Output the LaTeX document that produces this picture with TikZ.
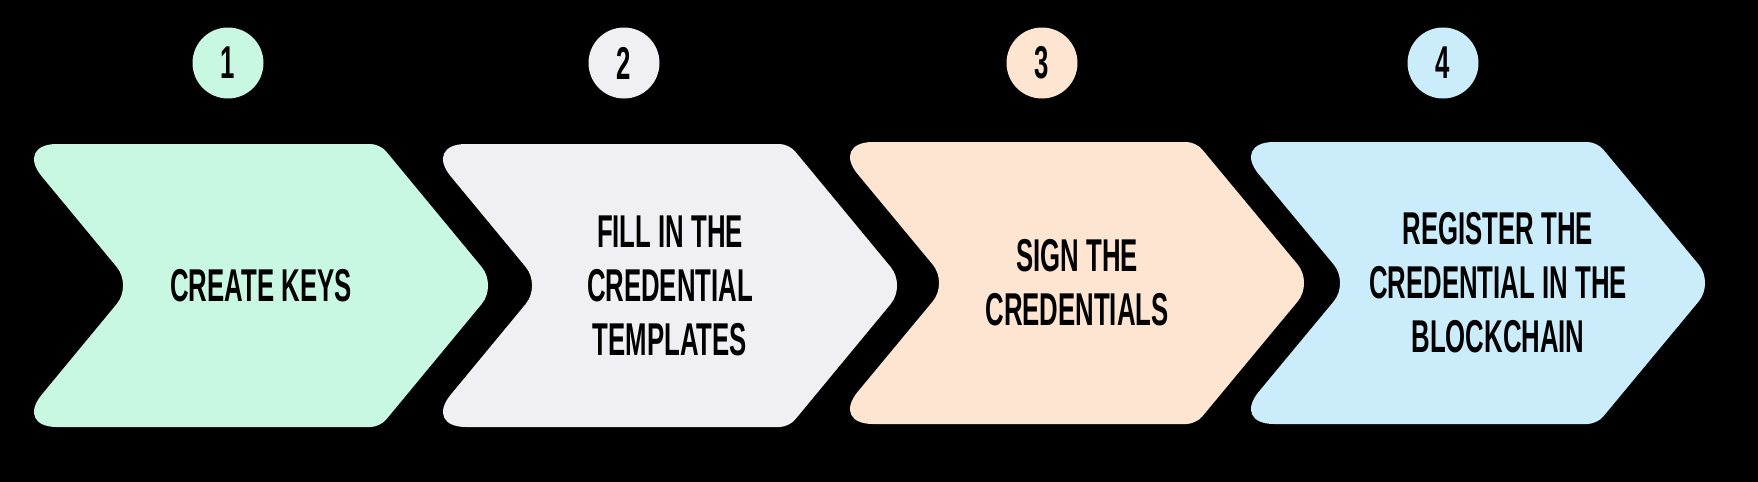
\documentclass[tikz,border=0pt]{standalone}
\usepackage{fontspec}
\setmainfont{Liberation Sans}[FakeStretch=0.56]
\definecolor{mintfill}{RGB}{200,247,226}
\definecolor{greyfill}{RGB}{239,239,244}
\definecolor{peachfill}{RGB}{253,229,210}
\definecolor{bluefill}{RGB}{203,236,250}

\begin{document}
\begin{tikzpicture}[x=0.5pt,y=-0.5pt,
	steptext/.style={align=center,text=black,font=\fontsize{23}{27}\selectfont\bfseries},
	stepnum/.style={circle,minimum size=35.5pt,inner sep=0pt,text=black,font=\fontsize{23}{27}\selectfont\bfseries}]
	\fill [black] (0,0) rectangle (1758,482);

	% arrows
	\fill [mintfill] (200,144) [rounded corners=4.75pt] -- (380,144) [rounded corners=12pt] -- (497,285.5) [rounded corners=4.75pt] -- (380,427) [rounded corners=21pt] -- (15,427) [rounded corners=12pt] -- (132,285.5) [rounded corners=21pt] -- (15,144) -- cycle;
	\fill [greyfill] (609,144) [rounded corners=4.75pt] -- (789,144) [rounded corners=12pt] -- (906,285.5) [rounded corners=4.75pt] -- (789,427) [rounded corners=21pt] -- (424,427) [rounded corners=12pt] -- (541,285.5) [rounded corners=21pt] -- (424,144) -- cycle;
	\fill [peachfill] (1016,142) [rounded corners=4.75pt] -- (1196,142) [rounded corners=12pt] -- (1313,283) [rounded corners=4.75pt] -- (1196,424) [rounded corners=21pt] -- (831,424) [rounded corners=12pt] -- (948,283) [rounded corners=21pt] -- (831,142) -- cycle;
	\fill [bluefill] (1417,142) [rounded corners=4.75pt] -- (1597,142) [rounded corners=12pt] -- (1714,283) [rounded corners=4.75pt] -- (1597,424) [rounded corners=21pt] -- (1232,424) [rounded corners=12pt] -- (1349,283) [rounded corners=21pt] -- (1232,142) -- cycle;

	\node [steptext] (create) at (261,285.5) {CREATE KEYS};
	\node [steptext] (fill) at (670,285.5) {FILL IN THE\\CREDENTIAL\\TEMPLATES};
	\node [steptext] (sign) at (1077,283) {SIGN THE\\CREDENTIALS};
	\node [steptext] (register) at (1498,283) {REGISTER THE\\CREDENTIAL IN THE\\BLOCKCHAIN};

	% numbers
	\node [stepnum,fill=mintfill] (one) at (228,63) {1};
	\node [stepnum,fill=greyfill] (two) at (624,63) {2};
	\node [stepnum,fill=peachfill] (three) at (1042,63) {3};
	\node [stepnum,fill=bluefill] (four) at (1443,63) {4};
\end{tikzpicture}
\end{document}
